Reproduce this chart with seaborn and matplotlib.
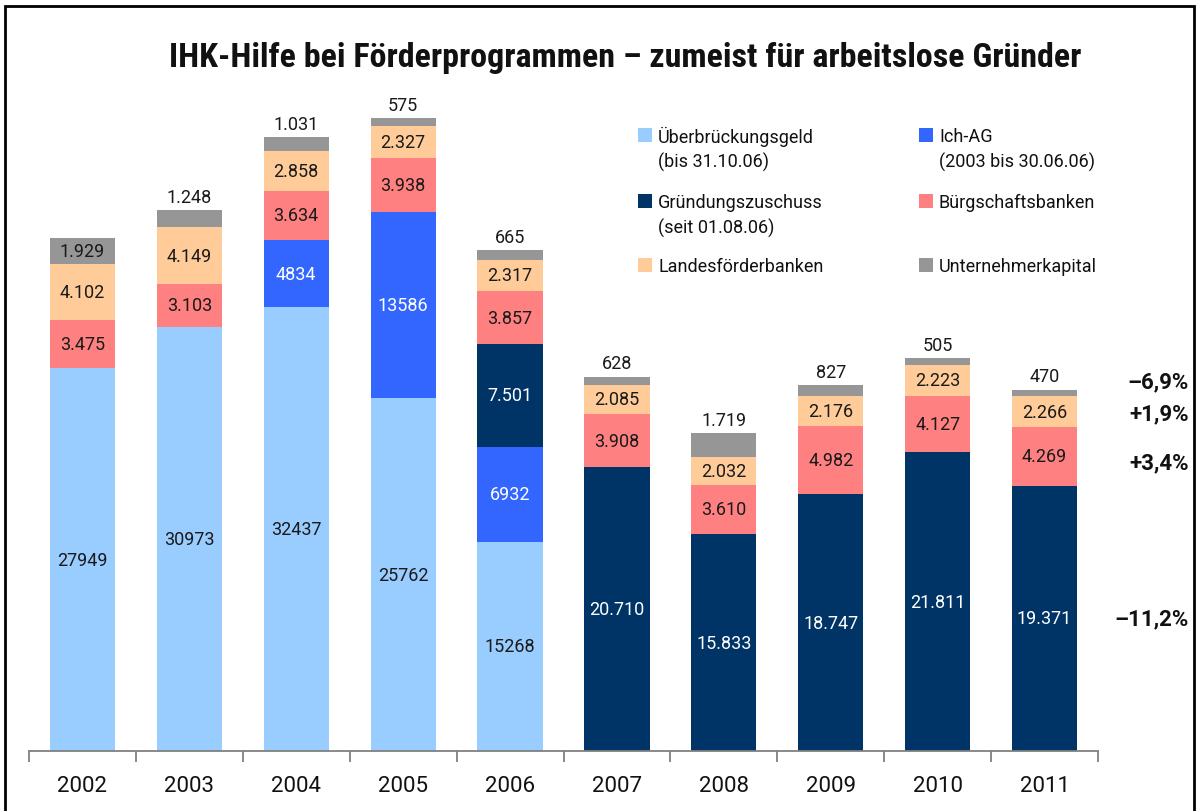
import numpy as np
import matplotlib
matplotlib.use("Agg")
import matplotlib.pyplot as plt
from matplotlib.patches import Rectangle
import seaborn as sns

# data
years = ["2002", "2003", "2004", "2005", "2006", "2007", "2008", "2009", "2010", "2011"]
ueberbrueckung = [27949, 30973, 32437, 25762, 15268, 0, 0, 0, 0, 0]
ich_ag = [0, 0, 4834, 13586, 6932, 0, 0, 0, 0, 0]
gruendung = [0, 0, 0, 0, 7501, 20710, 15833, 18747, 21811, 19371]
buergschaft = [3475, 3103, 3634, 3938, 3857, 3908, 3610, 4982, 4127, 4269]
landes = [4102, 4149, 2858, 2327, 2317, 2085, 2032, 2176, 2223, 2266]
unternehmer = [1929, 1248, 1031, 575, 665, 628, 1719, 827, 505, 470]

# change 2010 -> 2011, shown at the right
change_labels = {"gruendung": "–11,2%", "buergschaft": "+3,4%",
                 "landes": "+1,9%", "unternehmer": "–6,9%"}

title = "IHK-Hilfe bei Förderprogrammen – zumeist für arbeitslose Gründer"

sns.set_style("white")
plt.rcParams['font.family'] = ['Roboto', 'DejaVu Sans']

W, H = 1197, 812
fig = plt.figure(figsize=(W / 100, H / 100), dpi=100)
ax = fig.add_axes([29 / W, 60 / H, 1069 / W, 657.6 / H])

# key, legend label, values, colour, label colour, thousands dot
series = [
    ("ueberbrueckung", "Überbrückungsgeld\n(bis 31.10.06)", ueberbrueckung, "#99CCFF", "#1a1a1a", False),
    ("ich_ag", "Ich-AG\n(2003 bis 30.06.06)", ich_ag, "#3366FF", "white", False),
    ("gruendung", "Gründungszuschuss\n(seit 01.08.06)", gruendung, "#003366", "white", True),
    ("buergschaft", "Bürgschaftsbanken", buergschaft, "#FF8080", "#1a1a1a", True),
    ("landes", "Landesförderbanken", landes, "#FFCC99", "#1a1a1a", True),
    ("unternehmer", "Unternehmerkapital", unternehmer, "#969696", "#1a1a1a", True),
]


def fmt(v, dotted):
    s = f"{int(v):,}"
    return s.replace(",", ".") if dotted else s.replace(",", "")


bottom = np.zeros(len(years))
centers_2011 = {}
for key, label, vals, color, tcolor, dotted in series:
    vals = np.array(vals, dtype=float)
    sns.barplot(x=years, y=vals, bottom=bottom, color=color, saturation=1,
                width=0.61, errorbar=None, edgecolor="none", linewidth=0, ax=ax)
    for i, v in enumerate(vals):
        if v <= 0:
            continue
        if key == "unternehmer" and years[i] != "2002":
            # small top segment: value sits above the bar
            ax.annotate(fmt(v, dotted), (i, bottom[i] + v), xytext=(0, 3),
                        textcoords="offset points", ha="center", va="bottom",
                        fontsize=13, color=tcolor)
        else:
            ax.text(i, bottom[i] + v / 2, fmt(v, dotted), ha="center", va="center",
                    fontsize=13, color=tcolor)
    centers_2011[key] = bottom[-1] + vals[-1] / 2
    bottom += vals

# percent changes at the right edge
pct_offset = {"gruendung": 0, "buergschaft": -4, "landes": -1, "unternehmer": 8}
for key, txt in change_labels.items():
    ax.annotate(txt, (1189 / W, centers_2011[key]), xycoords=("figure fraction", "data"),
                xytext=(0, pct_offset[key]), textcoords="offset points",
                ha="right", va="center", fontsize=16, fontweight="bold", color="#111111")

ax.set_xlim(-0.5, len(years) - 0.5)
ax.set_ylim(0, 48000)
ax.set_yticks([])
ax.set_xlabel("")
ax.set_ylabel("")
for s in ["left", "top", "right"]:
    ax.spines[s].set_visible(False)
ax.spines["bottom"].set_color("#808080")
ax.spines["bottom"].set_linewidth(1.3)
ax.set_xticks(np.arange(-0.5, len(years), 1), minor=True)
ax.tick_params(axis="x", which="minor", length=8, width=1.3, color="#808080", direction="out", bottom=True)
ax.tick_params(axis="x", which="major", length=0, pad=17, labelsize=16, labelcolor="#111111")

# legend, two columns drawn by hand
legend_pos = [(638, 129), (638, 195), (638, 259), (919, 129), (919, 195), (919, 259)]
legend_order = ["ueberbrueckung", "gruendung", "landes", "ich_ag", "buergschaft", "unternehmer"]
info = {s[0]: s for s in series}
for key, (px, py) in zip(legend_order, legend_pos):
    _, label, _, color, _, _ = info[key]
    fig.add_artist(Rectangle((px / W, 1 - (py + 14) / H), 14 / W, 14 / H,
                             transform=fig.transFigure, facecolor=color, edgecolor="none"))
    for j, line in enumerate(label.split("\n")):
        fig.text((px + 20) / W, 1 - (py + 8 + 25 * j) / H, line, ha="left", va="center",
                 fontsize=13, color="#111111")

fig.text(625 / W, 1 - 58 / H, title, ha="center", va="center", fontsize=24.5,
         fontweight="bold", color="#111111",
         family=["Roboto Condensed", "Roboto", "DejaVu Sans"])

fig.add_artist(Rectangle((5 / W, -0.1), 1189 / W, (H - 7) / H + 0.1,
                         transform=fig.transFigure, fill=False, edgecolor="black", linewidth=2))

fig.savefig("out.png", dpi=100)
